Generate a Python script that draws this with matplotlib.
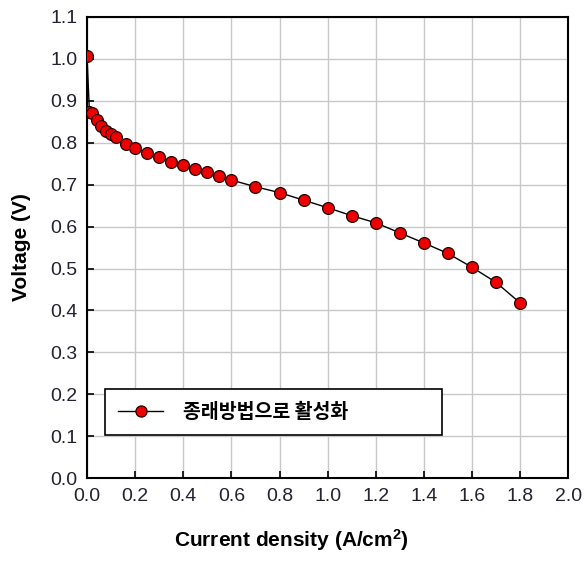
import numpy as np
import matplotlib
matplotlib.use('Agg')
from matplotlib import pyplot as plt

# polarization curve
current = [0.0, 0.01, 0.02, 0.04, 0.06, 0.08, 0.10, 0.12, 0.16, 0.20,
           0.25, 0.30, 0.35, 0.40, 0.45, 0.50, 0.55, 0.60, 0.70, 0.80,
           0.90, 1.00, 1.10, 1.20, 1.30, 1.40, 1.50, 1.60, 1.70, 1.80]
voltage = [1.007, 0.873, 0.871, 0.854, 0.840, 0.829, 0.821, 0.814, 0.797, 0.787,
           0.776, 0.765, 0.755, 0.747, 0.737, 0.729, 0.721, 0.711, 0.695, 0.681,
           0.663, 0.645, 0.626, 0.609, 0.585, 0.561, 0.536, 0.503, 0.467, 0.418]
series_label = '종래방법으로 활성화'
xticks = np.arange(0, 2.01, 0.2)
yticks = np.arange(0, 1.101, 0.1)

plt.rcParams['font.family'] = ['Liberation Sans', 'Noto Sans CJK KR']
plt.rcParams['mathtext.default'] = 'regular'

fig = plt.figure(figsize=(5.84, 5.62), dpi=100)
ax = fig.add_axes([0.149, 0.149, 0.824, 0.821])

ax.plot(current, voltage, '-', color='black', lw=1.0,
        marker='o', markersize=8.5, markerfacecolor='#ee0000',
        markeredgecolor='#220000', markeredgewidth=0.9,
        label=series_label, zorder=3)

ax.set_xlim(0, 2.0)
ax.set_ylim(0, 1.1)
ax.set_xticks(xticks)
ax.set_yticks(yticks)
ax.set_xticklabels(['%.1f' % v for v in xticks])
ax.set_yticklabels(['%.1f' % v for v in yticks])
ax.grid(True, color='#c8c8c8', lw=1.0)
ax.set_axisbelow(True)
ax.tick_params(direction='in', length=5, width=1.2, labelsize=14,
               colors='black', labelcolor='#222230', pad=7)
for s in ax.spines.values():
    s.set_linewidth(1.5)

ax.set_xlabel('Current density (A/cm$^2$)', fontsize=15, fontweight='bold',
              labelpad=14)
ax.xaxis.set_label_coords(0.424, -0.105)
ax.set_ylabel('Voltage (V)', fontsize=15, fontweight='bold', labelpad=14)

leg = ax.legend(loc='lower left', bbox_to_anchor=(0.037, 0.093, 0.70, 0.11),
                mode='expand', borderaxespad=0, fancybox=False, framealpha=1,
                edgecolor='black', handlelength=2.3, handletextpad=1.0,
                borderpad=0.7,
                prop={'family': ['Noto Sans CJK KR'], 'weight': 'bold',
                      'size': 14})
leg.get_frame().set_linewidth(1.2)
for h in leg.legend_handles:
    h.set_markersize(8)

fig.savefig('out.png', dpi=100)
